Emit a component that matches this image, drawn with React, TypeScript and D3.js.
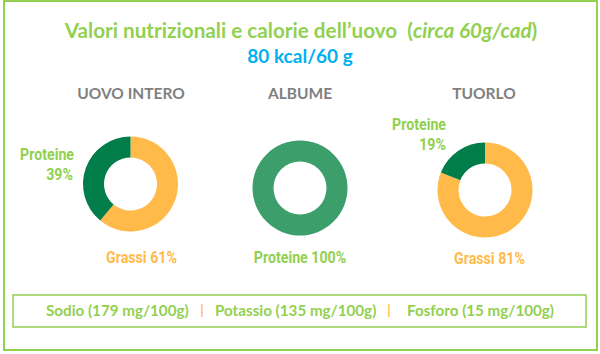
import React from 'react';
import * as d3 from 'd3';

const title = 'Valori nutrizionali e calorie dell\u2019uovo';
const titleItalic = 'circa 60g/cad';
const subtitle = '80 kcal/60 g';

const parts = ['UOVO INTERO', 'ALBUME', 'TUORLO'];
const grassi = [61, 0, 81];
const proteine = [39, 100, 19];

const minerals = ['Sodio (179 mg/100g)', 'Potassio (135 mg/100g)', 'Fosforo (15 mg/100g)'];

const GREEN = '#92d050';
const ORANGE = '#ffba4a';
const DARK = '#017d49';
const MID = '#3b9e6b';
const FONT = 'Lato, "Open Sans", sans-serif';
const NARROW = 'Roboto, "Noto Sans", sans-serif';

const W = 600;
const H = 354;

// etichetta condensata (font stretto come nel grafico originale)
const Label = ({ x, y, anchor, fill, children }: any) => (
  <text transform={`translate(${x},${y}) scale(0.86,1)`} textAnchor={anchor} fill={fill}>{children}</text>
);

const App = () => {
  const centersX = [130.5, 300, 485];
  const centersY = [184, 188, 190];
  const pie = d3.pie<{ name: string; value: number }>().sort(null).value(d => d.value);
  const arc = d3.arc<d3.PieArcDatum<{ name: string; value: number }>>().innerRadius(26.5).outerRadius(47.5);

  const minStart = [46, 215, 407];
  const pipes = [202, 389];

  return (
    <svg width={W} height={H} style={{ position: 'absolute', left: 0, top: 0 }} fontFamily={FONT}>
      <rect x={4} y={1} width={593} height={349} fill="#fff" stroke={GREEN} strokeWidth={2} />
      <text x={301} y={38} textAnchor="middle" fontSize={20.7} fontWeight="bold" fill={GREEN}>
        {title}
        <tspan dx={10}>(</tspan>
        <tspan fontStyle="italic">{titleItalic}</tspan>
        <tspan>)</tspan>
      </text>
      <text x={300} y={63} textAnchor="middle" fontSize={19} fontWeight="bold" fill="#00b0f0">{subtitle}</text>

      {parts.map((p, i) => {
        const data = [
          { name: 'Grassi', value: grassi[i] },
          { name: 'Proteine', value: proteine[i] },
        ];
        const arcs = pie(data);
        const protColor = i === 1 ? MID : DARK;
        return (
          <g key={p}>
            <text x={i === 0 ? 131 : i === 2 ? 484 : 300} y={99} textAnchor="middle" fontSize={15.5} fontWeight="bold" fill="#7f7f7f">{p}</text>
            <g transform={`translate(${centersX[i]},${centersY[i]})`}>
              {arcs.filter(a => a.data.value > 0).map(a => (
                <path key={a.data.name} d={arc(a) as string} fill={a.data.name === 'Grassi' ? ORANGE : protColor} />
              ))}
            </g>
          </g>
        );
      })}

      <g fontSize={16.5} fontWeight="bold" fontFamily={NARROW}>
        <Label x={74} y={160} anchor="end" fill={GREEN}>Proteine</Label>
        <Label x={73} y={180} anchor="end" fill={GREEN}>{proteine[0]}%</Label>
        <Label x={141.5} y={263} anchor="middle" fill={ORANGE}>Grassi {grassi[0]}%</Label>
        <Label x={300} y={263} anchor="middle" fill={GREEN}>Proteine {proteine[1]}%</Label>
        <Label x={446} y={130} anchor="end" fill={GREEN}>Proteine</Label>
        <Label x={446} y={150} anchor="end" fill={GREEN}>{proteine[2]}%</Label>
        <Label x={489.5} y={264} anchor="middle" fill={ORANGE}>Grassi {grassi[2]}%</Label>
      </g>

      <rect x={13} y={295} width={573} height={32} fill="none" stroke={GREEN} strokeWidth={1.5} />
      <g fontSize={15.2} fontWeight="bold">
        {minerals.map((m, i) => (
          <text key={m} x={minStart[i]} y={316} fill={GREEN}>{m}</text>
        ))}
        {pipes.map(px => (
          <text key={px} x={px} y={315} textAnchor="middle" fontSize={13} fill={ORANGE}>|</text>
        ))}
      </g>
    </svg>
  );
};

export default App;
